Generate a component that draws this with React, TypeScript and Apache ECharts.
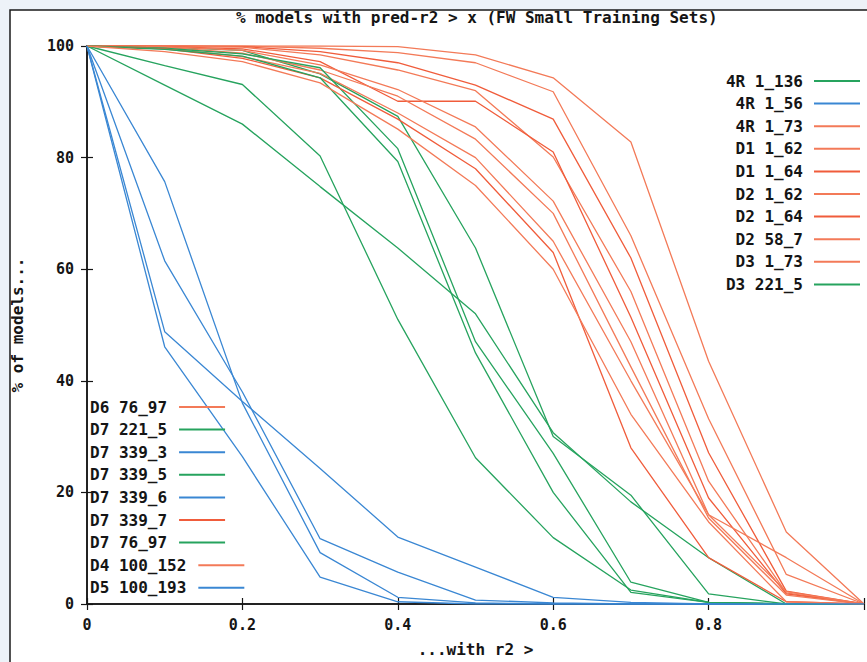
import React, { useEffect, useRef } from "react";
import * as echarts from "echarts";

// x positions of the sampled thresholds
const xs = [0, 0.1, 0.2, 0.3, 0.4, 0.5, 0.6, 0.7, 0.8, 0.9, 1.0];

// right legend (order as shown)
const s4R_1_136 = [100, 99.8, 99.2, 95.0, 87.4, 63.8, 30.0, 19.5, 1.8, 0, 0];
const s4R_1_56 = [100, 75.7, 36.0, 9.2, 1.2, 0.2, 0, 0, 0, 0, 0];
const s4R_1_73 = [100, 100, 100, 100, 99.9, 98.4, 94.3, 82.8, 43.5, 12.9, 0];
const sD1_1_62 = [100, 100, 100, 99.6, 98.8, 97.0, 91.8, 66.0, 33.2, 5.3, 0];
const sD1_1_64 = [100, 100, 99.9, 99.0, 97.0, 93.0, 86.9, 62.0, 27.1, 2.3, 0];
const sD2_1_62 = [100, 100, 99.8, 98.4, 95.7, 92.0, 80.1, 56.0, 22.0, 2.0, 0];
const sD2_1_64 = [100, 99.9, 99.5, 97.2, 90.1, 90.1, 81.0, 51.4, 19.0, 1.8, 0];
const sD2_58_7 = [100, 99.9, 99.2, 96.6, 92.2, 85.5, 72.2, 47.0, 16.0, 2.2, 0];
const sD3_1_73 = [100, 99.8, 98.7, 95.7, 91.0, 83.3, 70.0, 42.5, 15.4, 1.6, 0];
const sD3_221_5 = [100, 96.5, 93.1, 80.3, 51.0, 26.2, 11.9, 2.5, 0.3, 0, 0];
// left legend
const sD6_76_97 = [100, 99.6, 98.1, 95.1, 88.0, 80.0, 65.0, 40.0, 16.0, 8.3, 0];
const sD7_221_5 = [100, 93.0, 86.0, 74.8, 63.8, 52.0, 30.7, 18.3, 8.3, 0, 0];
const sD7_339_3 = [100, 61.5, 38.0, 11.7, 5.7, 0.7, 0.2, 0, 0, 0, 0];
const sD7_339_5 = [100, 99.6, 98.6, 96.1, 81.6, 47.0, 27.0, 3.9, 0.3, 0, 0];
const sD7_339_6 = [100, 46.1, 26.4, 4.8, 0.4, 0, 0, 0, 0, 0, 0];
const sD7_339_7 = [100, 99.5, 97.8, 94.3, 86.9, 78.0, 63.0, 28.0, 8.3, 0.4, 0];
const sD7_76_97 = [100, 99.4, 98.2, 94.3, 79.3, 45.0, 20.0, 2.1, 0.3, 0, 0];
const sD4_100_152 = [100, 99.0, 97.2, 93.4, 85.1, 75.0, 60.0, 34.0, 14.7, 0.4, 0];
const sD5_100_193 = [100, 48.8, 36.3, 24.3, 12.0, 6.6, 1.2, 0.3, 0, 0, 0];

const xTicks = [0, 0.2, 0.4, 0.6, 0.8];

const GREEN = "#26a35e";
const BLUE = "#3a87d3";
const RED = "#f05c3b";
const RED2 = "#f37a58";

const rightSeries: [string, number[], string][] = [
  ["4R 1_136", s4R_1_136, GREEN],
  ["4R 1_56", s4R_1_56, BLUE],
  ["4R 1_73", s4R_1_73, RED2],
  ["D1 1_62", sD1_1_62, RED2],
  ["D1 1_64", sD1_1_64, RED],
  ["D2 1_62", sD2_1_62, RED2],
  ["D2 1_64", sD2_1_64, RED],
  ["D2 58_7", sD2_58_7, RED2],
  ["D3 1_73", sD3_1_73, RED2],
  ["D3 221_5", sD3_221_5, GREEN],
];
const leftSeries: [string, number[], string][] = [
  ["D6 76_97", sD6_76_97, RED2],
  ["D7 221_5", sD7_221_5, GREEN],
  ["D7 339_3", sD7_339_3, BLUE],
  ["D7 339_5", sD7_339_5, GREEN],
  ["D7 339_6", sD7_339_6, BLUE],
  ["D7 339_7", sD7_339_7, RED],
  ["D7 76_97", sD7_76_97, GREEN],
  ["D4 100_152", sD4_100_152, RED2],
  ["D5 100_193", sD5_100_193, BLUE],
];

const MONO = "'DejaVu Sans Mono', 'Liberation Mono', monospace";
const INK = "#151515";

export default function App() {
  const ref = useRef<HTMLDivElement>(null);
  useEffect(() => {
    if (!ref.current) return;
    const chart = echarts.init(ref.current, undefined, { renderer: "svg" });
    const all = [...rightSeries, ...leftSeries];
    const series = all.map(([name, vals, color]) => ({
      name,
      type: "line",
      data: xs.map((x, i) => [x, vals[i]]),
      showSymbol: false,
      symbol: "none",
      silent: true,
      lineStyle: { width: 1.3, color },
      itemStyle: { color },
      emphasis: { disabled: true },
    }));
    const axisLine = { show: true, lineStyle: { color: INK, width: 1.5 } };
    const axisTick = { show: true, inside: true, length: 6, lineStyle: { color: INK, width: 1.2 } };
    const labelStyle = { fontFamily: MONO, fontWeight: "bold", fontSize: 15, color: INK };
    const nameStyle = { fontFamily: MONO, fontWeight: "bold", fontSize: 16, color: INK };
    const legendText = { fontFamily: MONO, fontWeight: "bold", fontSize: 16, color: INK, lineHeight: 16 };
    const ROW = 22.6;
    const leftLegend = (names: string[], top: number) => ({
      data: names,
      orient: "vertical",
      left: 90,
      top,
      padding: 0,
      align: "right",
      icon: "rect",
      itemWidth: 46,
      itemHeight: 2,
      itemGap: ROW - 16,
      selectedMode: false,
      formatter: (n: string) => `{l|${n}}`,
      textStyle: {
        ...legendText,
        rich: { l: { ...legendText, padding: [0, 7, 0, 0] } },
      },
    });
    chart.setOption({
      animation: false,
      backgroundColor: "#edf2f8",
      title: {
        text: "% models with pred-r2 > x (FW Small Training Sets)",
        left: 236,
        top: 9,
        padding: 0,
        textStyle: { fontFamily: MONO, fontWeight: "bold", fontSize: 16, color: INK },
      },
      graphic: {
        elements: [
          {
            type: "rect",
            z: -10,
            silent: true,
            shape: { x: 10, y: 10, width: 900, height: 700 },
            style: { fill: "#ffffff", stroke: "#1a1a1a", lineWidth: 1.5 },
          },
        ],
      },
      grid: { left: 87, top: 46, width: 781, height: 564, containLabel: false },
      legend: [
        {
          data: rightSeries.map((s) => s[0]),
          orient: "vertical",
          right: 7,
          top: 73,
          padding: 0,
          align: "right",
          icon: "rect",
          itemWidth: 46,
          itemHeight: 2,
          itemGap: ROW - 16,
          selectedMode: false,
          formatter: (n: string) => `{r|${n}}`,
          textStyle: {
            ...legendText,
            rich: { r: { ...legendText, width: 77, align: "right", padding: [0, 6, 0, 0] } },
          },
        },
        leftLegend(leftSeries.slice(0, 7).map((s) => s[0]), 399),
        leftLegend(leftSeries.slice(7).map((s) => s[0]), 399 + 7 * ROW),
      ],
      xAxis: [
        {
          type: "value",
          min: 0,
          max: 1,
          interval: 0.2,
          position: "bottom",
          axisLine,
          axisTick,
          splitLine: { show: false },
          axisLabel: {
            ...labelStyle,
            margin: 13,
            formatter: (v: number) => {
              const t = xTicks.find((k) => Math.abs(k - v) < 1e-6);
              return t === undefined ? "" : String(t);
            },
          },
          name: "...with r2 >",
          nameLocation: "middle",
          nameGap: 37,
          nameTextStyle: nameStyle,
        },
        {
          type: "value",
          min: 0,
          max: 1,
          interval: 0.2,
          position: "top",
          axisLine,
          axisTick,
          splitLine: { show: false },
          axisLabel: { show: false },
        },
      ],
      yAxis: [
        {
          type: "value",
          min: 0,
          max: 100,
          interval: 20,
          position: "left",
          axisLine,
          axisTick,
          splitLine: { show: false },
          axisLabel: { ...labelStyle, margin: 13 },
          name: "% of models...",
          nameLocation: "middle",
          nameGap: 62,
          nameTextStyle: nameStyle,
        },
        {
          type: "value",
          min: 0,
          max: 100,
          interval: 20,
          position: "right",
          axisLine,
          axisTick,
          splitLine: { show: false },
          axisLabel: { show: false },
        },
      ],
      series,
    });
    return () => chart.dispose();
  }, []);
  return (
    <div
      ref={ref}
      style={{ position: "fixed", left: 0, top: 0, width: 867, height: 662 }}
    />
  );
}
